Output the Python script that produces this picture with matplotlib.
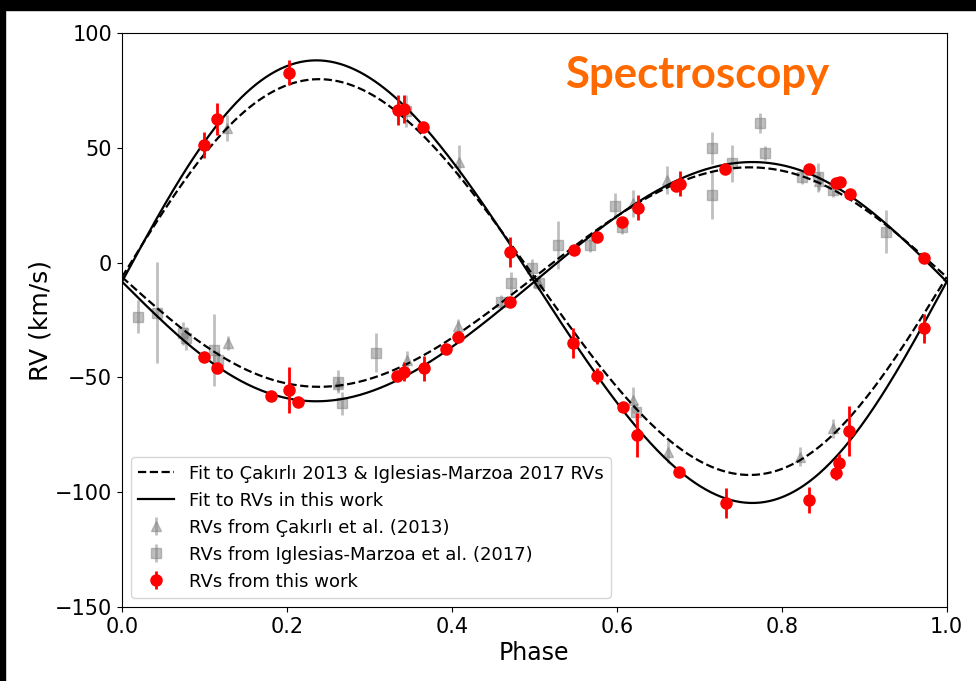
import numpy as np
import matplotlib.pyplot as plt
from matplotlib.patches import Rectangle

# --- RVs from this work (primary / secondary) ---
red_ph_p = [0.100, 0.115, 0.203, 0.335, 0.342, 0.365, 0.470, 0.547, 0.576, 0.607,
            0.625, 0.675, 0.732, 0.833, 0.866, 0.869, 0.882, 0.972]
red_rv_p = [51.2, 62.4, 82.7, 66.5, 66.8, 59.2, 4.8, -34.9, -49.4, -62.8,
            -75.1, -91.1, -104.6, -103.4, -91.8, -87.4, -73.2, -28.6]
red_er_p = [5.8, 7.0, 5.5, 6.5, 6.0, 2.0, 6.5, 6.5, 3.6, 2.0,
            9.4, 2.0, 6.5, 5.8, 3.0, 4.0, 10.9, 6.2]

red_ph_s = [0.100, 0.115, 0.181, 0.202, 0.214, 0.334, 0.342, 0.366, 0.393, 0.408,
            0.470, 0.548, 0.576, 0.606, 0.626, 0.672, 0.676, 0.731, 0.833, 0.866,
            0.871, 0.883, 0.972]
red_rv_s = [-41.0, -46.0, -58.1, -55.5, -60.6, -49.2, -47.5, -46.1, -37.8, -32.6,
            -17.3, 5.3, 11.1, 17.8, 23.9, 33.3, 34.4, 40.6, 40.6, 34.8,
            35.2, 29.9, 2.1]
red_er_s = [2.0, 2.0, 2.0, 10.2, 2.0, 2.0, 4.0, 5.4, 2.0, 2.0,
            2.0, 2.0, 2.0, 2.0, 5.5, 2.0, 5.6, 2.0, 2.0, 2.0,
            2.0, 2.0, 2.0]

# --- Cakirli et al. (2013) ---
cak_ph = [0.127, 0.409, 0.620, 0.662, 0.822, 0.862,
          0.128, 0.262, 0.346, 0.408, 0.504, 0.619, 0.661, 0.845]
cak_rv = [58.6, 43.9, -59.8, -82.4, -84.5, -72.2,
          -35.1, -53.0, -42.4, -27.5, -8.3, 25.8, 36.0, 35.5]
cak_er = [5.5, 7.3, 5.8, 5.0, 4.0, 4.0,
          3.0, 3.0, 4.0, 3.0, 3.0, 5.8, 6.0, 4.0]

# --- Iglesias-Marzoa et al. (2017) ---
igl_ph = [0.020, 0.043, 0.074, 0.078, 0.111, 0.116, 0.262, 0.267, 0.308, 0.344,
          0.459, 0.472, 0.497, 0.506, 0.529, 0.568, 0.598, 0.606, 0.623, 0.716,
          0.716, 0.740, 0.774, 0.780, 0.824, 0.844, 0.862, 0.926]
igl_rv = [-23.5, -21.8, -30.8, -33.0, -38.0, -42.4, -51.9, -61.3, -39.2, 66.0,
          -17.0, -9.0, -2.5, -9.0, 7.7, 7.7, 24.6, 15.5, -65.0, 50.0,
          29.4, 43.2, 60.9, 47.6, 37.1, 37.1, 31.6, 13.5]
igl_er = [7.3, 22.0, 5.0, 5.0, 15.6, 4.0, 5.0, 5.0, 8.4, 7.0,
          3.0, 5.0, 4.0, 3.0, 10.5, 3.0, 5.8, 3.0, 4.0, 7.0,
          10.5, 8.0, 4.4, 3.0, 3.0, 6.5, 3.0, 9.4]

# orbit parameters of the two fits: K1, K2, gamma, e
fit_lit = dict(K1=86.2, K2=47.8, gamma=-6.3, e=0.035)
fit_new = dict(K1=96.4, K2=52.1, gamma=-8.3, e=0.045)


def kepler_rv(ph, K, gamma, e):
    # omega = 270 deg, periastron at phase 0
    M = 2 * np.pi * ph
    E = M.copy()
    for _ in range(30):
        E = M + e * np.sin(E)
    nu = 2 * np.arctan2(np.sqrt(1 + e) * np.sin(E / 2), np.sqrt(1 - e) * np.cos(E / 2))
    return gamma + K * np.sin(nu)


phase = np.linspace(0, 1, 500)

fig = plt.figure(figsize=(9.76, 6.81), dpi=100)
ax = fig.add_axes([0.125, 0.1087, 0.845, 0.8428])

lw = 1.6
for fit, ls, lab in [(fit_lit, '--', 'Fit to Çakırlı 2013 & Iglesias-Marzoa 2017 RVs'),
                     (fit_new, '-', 'Fit to RVs in this work')]:
    ax.plot(phase, kepler_rv(phase, fit['K1'], fit['gamma'], fit['e']),
            ls=ls, c='k', lw=lw, label=lab, zorder=3)
    ax.plot(phase, kepler_rv(phase, -fit['K2'], fit['gamma'], fit['e']),
            ls=ls, c='k', lw=lw, zorder=3)

ax.errorbar(cak_ph, cak_rv, yerr=cak_er, fmt='^', c='gray', alpha=0.5, ms=7,
            elinewidth=2, capsize=0, label='RVs from Çakırlı et al. (2013)', zorder=2)
ax.errorbar(igl_ph, igl_rv, yerr=igl_er, fmt='s', c='gray', alpha=0.5, ms=7,
            elinewidth=2, capsize=0, label='RVs from Iglesias-Marzoa et al. (2017)', zorder=2)
ax.errorbar(red_ph_p + red_ph_s, red_rv_p + red_rv_s, yerr=red_er_p + red_er_s,
            fmt='o', c='r', ms=8, elinewidth=2, capsize=0,
            label='RVs from this work', zorder=4)

ax.set_xlim(0, 1)
ax.set_ylim(-150, 100)
ax.set_xticks([0, 0.2, 0.4, 0.6, 0.8, 1.0])
ax.set_yticks([-150, -100, -50, 0, 50, 100])
ax.tick_params(labelsize=15)
ax.set_xlabel('Phase', fontsize=17, labelpad=3)
ax.set_ylabel('RV (km/s)', fontsize=18, labelpad=2)
ax.legend(loc='lower left', fontsize=13, borderaxespad=0.5, handlelength=2.0,
          labelspacing=0.5)

ax.text(0.697, 0.927, 'Spectroscopy', transform=ax.transAxes, ha='center', va='center',
        fontsize=31.5, fontweight='bold', family='Lato', color='#ff6a00')

# dark frame along the top and left edge
fig.patches.append(Rectangle((0, 1 - 10 / 681), 1, 10 / 681, transform=fig.transFigure,
                             color='k', zorder=10))
fig.patches.append(Rectangle((0, 0), 5 / 976, 1, transform=fig.transFigure,
                             color='k', zorder=10))

fig.savefig('out.png', dpi=100)
